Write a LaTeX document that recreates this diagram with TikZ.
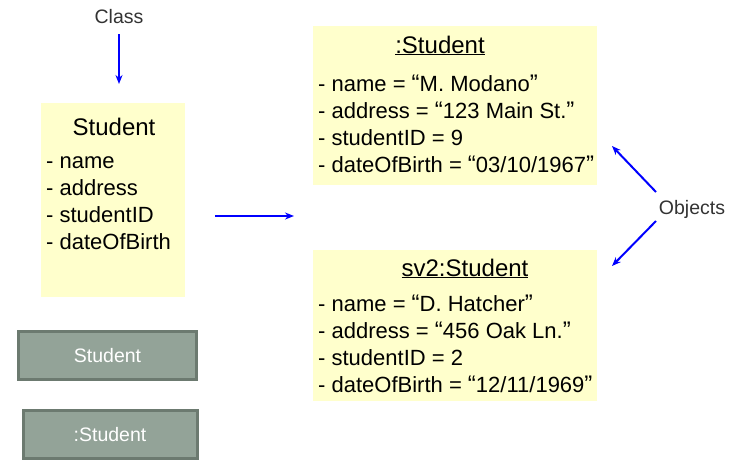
\documentclass[tikz,border=0pt]{standalone}
\usepackage{fontspec}
\setmainfont{Liberation Sans}
\usetikzlibrary{arrows.meta}
\definecolor{noteyellow}{HTML}{FFFFCC}
\definecolor{boxgray}{HTML}{93A398}
\definecolor{boxedge}{HTML}{6C7A70}
\definecolor{arrowblue}{HTML}{0000FF}
\definecolor{labelgray}{HTML}{333333}
\tikzset{
  note/.style={fill=noteyellow, draw=none},
  attr/.style={anchor=base west, inner sep=0pt, font=\fontsize{22}{26}\selectfont},
  titletext/.style={anchor=base, inner sep=0pt, font=\fontsize{24}{28}\selectfont},
  callout/.style={inner sep=0pt, text=labelgray, font=\fontsize{19.5}{22}\selectfont},
  graybox/.style={draw=boxedge, line width=3pt, fill=boxgray, text=white, font=\fontsize{19.5}{22}\selectfont, inner sep=0pt},
  bluearrow/.style={draw=arrowblue, line width=2pt, -{Stealth[length=9pt,width=7pt]}}
}
\newcommand{\myopenq}{{\fontsize{24}{26}\selectfont “}}
\newcommand{\myclosq}{{\fontsize{24}{26}\selectfont ”}}
\begin{document}
\begin{tikzpicture}[x=1pt,y=-1pt]
\useasboundingbox (0,0) rectangle (741,461);
% class box
\fill[note] (41,103) rectangle (185,297);
\node[titletext] (ctitle) at (114,135) {Student};
\node[attr] (c1) at (46,168) {- name};
\node[attr] (c2) at (46,195) {- address};
\node[attr] (c3) at (46,222) {- studentID};
\node[attr] (c4) at (46,249) {- dateOfBirth};
% object box 1
\fill[note] (313,26) rectangle (597,185);
\node[titletext] (o1title) at (440,53) {\underline{:Student}};
\node[attr] (o11) at (318,91) {- name = \myopenq M. Modano\myclosq};
\node[attr] (o12) at (318,118) {- address = \myopenq 123 Main St.\myclosq};
\node[attr] (o13) at (318,145) {- studentID = 9};
\node[attr] (o14) at (318,172) {- dateOfBirth = \myopenq 03/10/1967\myclosq};
% object box 2
\fill[note] (313,250) rectangle (597,401);
\node[titletext] (o2title) at (465,276) {\underline{sv2:Student}};
\node[attr] (o21) at (318,311) {- name = \myopenq D. Hatcher\myclosq};
\node[attr] (o22) at (318,338) {- address = \myopenq 456 Oak Ln.\myclosq};
\node[attr] (o23) at (318,365) {- studentID = 2};
\node[attr] (o24) at (318,392) {- dateOfBirth = \myopenq 12/11/1969\myclosq};
% gray boxes
\node[graybox, minimum width=178pt, minimum height=48pt] (g1) at (107.5,355.5) {Student};
\node[graybox, minimum width=174pt, minimum height=48pt] (g2) at (110,434.5) {:Student};
% labels
\node[callout] (cls) at (119,17) {Class};
\node[callout] (objs) at (692,209) {Objects};
\coordinate (clsend) at (119,84);
\coordinate (a1s) at (215,216);
\coordinate (a1e) at (294,216);
\coordinate (ob1) at (612,146);
\coordinate (ob2) at (612,266);
\draw[bluearrow] (119,34) -- (clsend);
\draw[bluearrow] (a1s) -- (a1e);
\draw[bluearrow] (656,192) -- (ob1);
\draw[bluearrow] (656,221) -- (ob2);
\end{tikzpicture}
\end{document}
